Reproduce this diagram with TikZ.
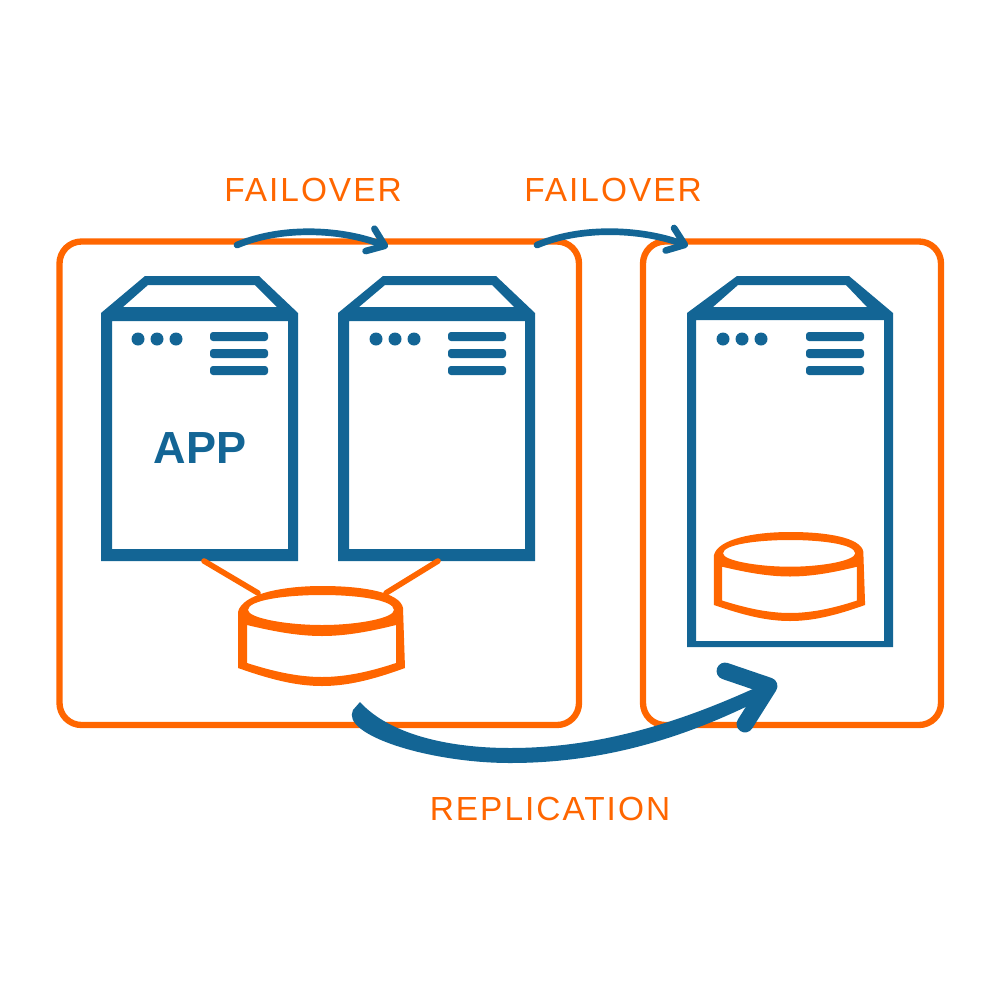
\documentclass[tikz,border=0pt]{standalone}
\usepackage{fontspec}
\setmainfont{Liberation Sans}
\newfontfamily\labelfont[LetterSpace=6]{Liberation Sans}
\usetikzlibrary{arrows.meta}
\definecolor{serverblue}{HTML}{136595}
\definecolor{siteorange}{HTML}{FF6600}
\tikzset{
    px/.style={x=0.01cm, y=-0.01cm},
    sitebox/.style={draw=siteorange, line width=1.8pt, rounded corners=2.2mm},
    dblink/.style={draw=siteorange, line width=1.6pt, line cap=round},
    failarrow/.style={draw=serverblue, line width=1.9pt, line cap=round, -{Straight Barb[round, length=1.6mm, width=2.4mm]}},
    sitelabel/.style={text=siteorange, font=\labelfont\fontsize{9.5}{11}\selectfont},
    applabel/.style={text=serverblue, font=\bfseries\fontsize{12.8}{15}\selectfont},
    pics/serverdots/.style={code={
        \foreach \i in {0, 19, 38} {\fill[serverblue] (\i, 0) circle (6.5);}
    }},
    pics/serverbars/.style={code={
        \foreach \i in {0, 17, 34} {\fill[serverblue, rounded corners=0.3mm] (0, \i) rectangle (58, \i+9);}
    }},
    pics/dbstack/.style={code={
        \fill[siteorange, even odd rule]
            (-84, 82) -- (-84, 26) .. controls (-80, 8) and (-40, 0) .. (0, 0)
            .. controls (40, 0) and (78, 6) .. (81, 22) -- (83, 82)
            .. controls (50, 94) and (25, 100) .. (0, 100)
            .. controls (-25, 100) and (-50, 94) .. (-84, 82) -- cycle
            (-74, 24) .. controls (-74, 14) and (-36, 9) .. (0, 9)
            .. controls (36, 9) and (72, 14) .. (72, 24)
            .. controls (72, 32) and (36, 39) .. (0, 39)
            .. controls (-36, 39) and (-74, 32) .. (-74, 24) -- cycle
            (-75, 39) .. controls (-50, 45) and (-25, 50) .. (0, 50)
            .. controls (25, 50) and (50, 45) .. (74, 39) -- (74, 77)
            .. controls (50, 85) and (25, 91) .. (0, 91)
            .. controls (-25, 91) and (-50, 85) .. (-75, 77) -- cycle;
    }}
}
\begin{document}
\begin{tikzpicture}[px]
    \useasboundingbox (0, 0) rectangle (1000, 1000);

    \path (237, 245) coordinate (F1);
    \path (388, 247) coordinate (F2);
    \path (537, 245) coordinate (F3);
    \path (688, 246) coordinate (F4);

    \path (204, 561) coordinate (L1);
    \path (258, 593) coordinate (L2);
    \path (438, 561) coordinate (L3);
    \path (386, 593) coordinate (L4);

    \path (725, 671) coordinate (R1);
    \path (769, 686) coordinate (R2);
    \path (745, 724) coordinate (R3);

    % sites
    \draw[sitebox] (59.5, 241.5) rectangle (579, 725);
    \draw[sitebox] (643, 241.5) rectangle (941, 725);

    % servers
    \fill[serverblue, even odd rule] (101, 313) rectangle (298, 561) (112, 321) rectangle (288, 549);
    \fill[serverblue, even odd rule] (101, 313) -- (145, 276) -- (259, 276) -- (298, 313) -- cycle
        (123, 307) -- (148, 285) -- (255, 285) -- (277, 307) -- cycle;
    \fill[serverblue, even odd rule] (338, 313) rectangle (535, 561) (349, 321) rectangle (525, 549);
    \fill[serverblue, even odd rule] (338, 313) -- (383, 276) -- (496, 276) -- (535, 313) -- cycle
        (359, 307) -- (385, 285) -- (492, 285) -- (514, 307) -- cycle;
    \fill[serverblue, even odd rule] (687, 313) rectangle (893, 647) (696, 320) rectangle (884, 641);
    \fill[serverblue, even odd rule] (687, 313) -- (737, 276) -- (849, 276) -- (893, 313) -- cycle
        (713, 307) -- (738, 285) -- (846, 285) -- (867, 307) -- cycle;

    \pic at (138, 339) {serverdots};
    \pic at (376, 339) {serverdots};
    \pic at (723, 339) {serverdots};
    \pic at (210, 332) {serverbars};
    \pic at (448, 332) {serverbars};
    \pic at (806, 332) {serverbars};

    % databases
    \draw[dblink] (L1) -- (L2);
    \draw[dblink] (L3) -- (L4);
    \pic at (322, 586) {dbstack};
    \pic[xscale=0.905, yscale=0.89] at (790, 532) {dbstack};

    % failover arrows
    \draw[failarrow] (F1) .. controls (285, 225) and (345, 230) .. (F2);
    \draw[failarrow] (F3) .. controls (585, 225) and (645, 230) .. (F4);

    % replication arrow
    \fill[serverblue] (360, 702) .. controls (390, 735) and (450, 748) .. (510, 748)
        .. controls (600, 748) and (680, 722) .. (755, 688) -- (760, 700)
        .. controls (680, 740) and (600, 763) .. (510, 763)
        .. controls (430, 763) and (340, 735) .. (353, 710) -- cycle;
    \draw[serverblue, line width=4.8pt, line cap=round, line join=round] (R1) -- (R2) -- (R3);

    \node[sitelabel] (failoverA) at (313, 190) {FAILOVER};
    \node[sitelabel] (failoverB) at (613, 190) {FAILOVER};
    \node[sitelabel] (replication) at (550, 809) {REPLICATION};
    \node[applabel] (app) at (200, 448) {APP};
\end{tikzpicture}
\end{document}
